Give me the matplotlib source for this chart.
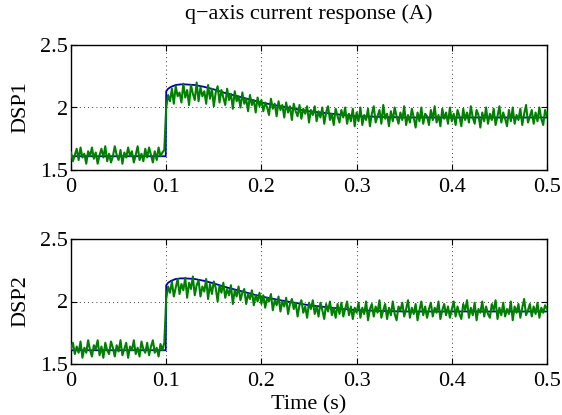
import numpy as np
import matplotlib
matplotlib.use("Agg")
import matplotlib.pyplot as plt

plt.rcParams['font.family'] = ['Liberation Serif', 'DejaVu Serif']

# sampling grid of the measured signals (s)
t_meas = np.linspace(0.0, 0.5, 251)

# DSP1 measured q-axis current (A)
i_dsp1 = [
    1.64, 1.57, 1.62, 1.67, 1.58, 1.68, 1.60, 1.63, 1.55, 1.65,
    1.61, 1.68, 1.59, 1.64, 1.55, 1.62, 1.67, 1.60, 1.69, 1.57,
    1.63, 1.56, 1.61, 1.69, 1.62, 1.58, 1.66, 1.55, 1.64, 1.60,
    1.68, 1.61, 1.65, 1.56, 1.62, 1.69, 1.58, 1.63, 1.57, 1.67,
    1.60, 1.68, 1.62, 1.56, 1.65, 1.58, 1.68, 1.61, 1.64, 1.66,
    2.00, 2.10, 2.05, 2.15, 2.03, 2.17, 2.09, 2.12, 2.04, 2.19,
    2.08, 2.14, 2.02, 2.18, 2.11, 2.06, 2.20, 2.05, 2.16, 2.09,
    2.13, 2.03, 2.18, 2.07, 2.15, 2.01, 2.12, 2.17, 2.04, 2.14,
    2.08, 2.02, 2.15, 2.06, 2.11, 1.99, 2.13, 2.05, 2.09, 2.00,
    2.12, 2.03, 2.07, 1.97, 2.10, 2.02, 2.06, 1.96, 2.08, 2.01,
    2.06, 1.97, 2.04, 2.00, 1.94, 2.07, 1.99, 2.03, 1.93, 2.05,
    1.98, 2.02, 1.92, 2.04, 1.96, 2.01, 1.90, 2.03, 1.97, 1.93,
    2.02, 1.91, 1.99, 1.95, 2.01, 1.88, 1.98, 1.94, 2.01, 1.89,
    1.97, 1.92, 2.00, 1.87, 1.96, 2.01, 1.90, 1.95, 1.86, 1.99,
    1.93, 1.88, 1.98, 1.92, 2.00, 1.87, 1.95, 1.89, 1.99, 1.85,
    1.96, 1.89, 2.00, 1.86, 1.94, 1.90, 1.99, 1.85, 1.95, 2.01,
    1.88, 1.93, 1.98, 1.87, 2.02, 1.91, 1.95, 1.85, 1.97, 1.89,
    2.00, 1.93, 1.87, 1.96, 1.90, 2.01, 1.86, 1.94, 1.88, 1.99,
    1.92, 1.84, 1.96, 1.89, 2.00, 1.87, 1.95, 1.93, 1.86, 1.98,
    1.90, 2.01, 1.88, 1.94, 1.85, 1.99, 1.91, 1.96, 1.87, 2.00,
    1.89, 1.95, 1.86, 1.98, 1.93, 1.85, 1.99, 1.90, 1.96, 1.88,
    2.01, 1.92, 1.87, 1.98, 1.94, 1.84, 1.96, 1.89, 2.00, 1.87,
    1.95, 1.90, 1.99, 1.86, 1.93, 2.01, 1.88, 1.96, 1.91, 1.85,
    1.98, 1.89, 2.00, 1.87, 1.94, 1.90, 1.99, 1.86, 1.95, 2.02,
    1.88, 1.93, 1.98, 1.87, 1.96, 1.89, 2.00, 1.91, 1.86, 1.98,
    1.93,
]

# DSP2 measured q-axis current (A)
i_dsp2 = [
    1.62, 1.67, 1.58, 1.64, 1.59, 1.68, 1.55, 1.63, 1.59, 1.69,
    1.61, 1.56, 1.65, 1.62, 1.69, 1.57, 1.64, 1.55, 1.67, 1.61,
    1.58, 1.68, 1.63, 1.56, 1.65, 1.60, 1.69, 1.57, 1.62, 1.67,
    1.55, 1.64, 1.61, 1.69, 1.58, 1.63, 1.56, 1.68, 1.62, 1.59,
    1.67, 1.57, 1.64, 1.69, 1.59, 1.63, 1.56, 1.66, 1.61, 1.67,
    2.02, 2.12, 2.07, 2.16, 2.04, 2.11, 2.18, 2.06, 2.14, 2.09,
    2.19, 2.03, 2.15, 2.10, 2.20, 2.05, 2.13, 2.17, 2.04, 2.12,
    2.08, 2.18, 2.02, 2.14, 2.06, 2.16, 2.11, 2.00, 2.13, 2.07,
    2.15, 2.03, 2.10, 2.05, 2.13, 1.98, 2.09, 2.04, 2.12, 2.01,
    2.07, 2.10, 1.98, 2.06, 2.02, 2.09, 1.97, 2.05, 2.00, 2.07,
    1.98, 2.05, 1.95, 2.03, 2.00, 2.06, 1.93, 2.01, 1.97, 2.04,
    1.92, 2.00, 1.96, 2.03, 1.90, 1.98, 2.02, 1.94, 1.99, 1.88,
    1.97, 2.01, 1.91, 1.96, 1.87, 1.99, 1.94, 2.01, 1.90, 1.96,
    1.88, 1.99, 1.93, 1.86, 1.98, 1.92, 2.00, 1.89, 1.95, 1.87,
    1.98, 1.90, 1.99, 1.88, 1.94, 2.00, 1.89, 1.96, 1.86, 1.95,
    1.91, 1.99, 1.87, 1.95, 1.90, 2.00, 1.85, 1.94, 1.98, 1.88,
    1.96, 1.91, 2.01, 1.87, 1.93, 1.98, 1.86, 1.95, 1.89, 2.00,
    1.90, 1.85, 1.96, 1.93, 1.99, 1.88, 1.94, 2.01, 1.87, 1.95,
    1.90, 1.98, 1.85, 1.93, 2.00, 1.89, 1.96, 1.87, 1.94, 1.99,
    1.88, 1.95, 1.91, 2.00, 1.86, 1.93, 1.98, 1.89, 1.96, 1.87,
    1.94, 2.00, 1.88, 1.96, 1.90, 1.86, 1.98, 1.93, 2.01, 1.87,
    1.95, 1.89, 1.99, 1.85, 1.94, 1.91, 2.00, 1.88, 1.96, 1.90,
    1.87, 1.98, 1.93, 2.01, 1.86, 1.95, 1.89, 1.99, 1.88, 1.94,
    1.90, 2.00, 1.85, 1.96, 1.91, 1.98, 1.87, 1.95, 2.02, 1.89,
    1.93, 1.98, 1.88, 1.96, 1.90, 1.99, 1.87, 1.95, 1.91, 1.97,
    1.94,
]

# smooth reference response (A)
t_ref = [0.0, 0.0995, 0.1, 0.102, 0.105, 0.11, 0.115, 0.12, 0.13, 0.14,
         0.15, 0.16, 0.17, 0.18, 0.2, 0.22, 0.25, 0.28, 0.3, 0.35, 0.4, 0.5]
i_ref = [1.61, 1.61, 2.13, 2.15, 2.165, 2.18, 2.185, 2.185, 2.18, 2.165,
         2.145, 2.12, 2.10, 2.08, 2.04, 2.01, 1.97, 1.945, 1.93, 1.92, 1.92, 1.92]

x_ticks = [0, 0.1, 0.2, 0.3, 0.4, 0.5]
x_ticklabels = ['0', '0.1', '0.2', '0.3', '0.4', '0.5']
y_ticks = [1.5, 2.0, 2.5]
y_ticklabels = ['1.5', '2', '2.5']
panel_labels = ['DSP1', 'DSP2']

W, H = 562, 415
fig = plt.figure(figsize=(W / 100, H / 100), dpi=100)
left = 71 / W
width = 476 / W
ax1 = fig.add_axes([left, 1 - 170 / H, width, 125 / H])
ax2 = fig.add_axes([left, 1 - 364 / H, width, 125 / H])

for ax, sig, lab in zip([ax1, ax2], [i_dsp1, i_dsp2], panel_labels):
    ax.plot(t_ref, i_ref, color='#0000b0', lw=1.3, zorder=2)
    ax.plot(t_meas, sig, color='#008000', lw=1.5, zorder=3)
    ax.set_xlim(0, 0.5)
    ax.set_ylim(1.5, 2.5)
    ax.set_xticks(x_ticks)
    ax.set_xticklabels(x_ticklabels)
    ax.set_yticks(y_ticks)
    ax.set_yticklabels(y_ticklabels)
    ax.tick_params(direction='in', top=True, right=True, labelsize=16,
                   length=4, width=0.8)
    ax.tick_params(axis='x', pad=6)
    ax.tick_params(axis='y', pad=2)
    ax.grid(True, linestyle=(0, (1, 4)), color='black', lw=0.6)
    for s in ax.spines.values():
        s.set_linewidth(1.0)
    ax.set_ylabel(lab, fontsize=16, labelpad=7)

ax1.set_title('q\u2212axis current response (A)', fontsize=16, pad=19)
ax2.set_xlabel('Time (s)', fontsize=16, labelpad=3)

fig.savefig('out.png', dpi=100)
